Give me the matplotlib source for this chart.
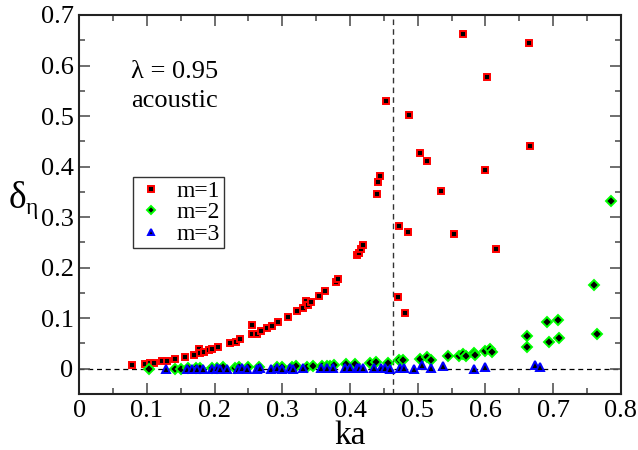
import matplotlib
matplotlib.use("Agg")
import matplotlib.pyplot as plt
from matplotlib.ticker import MultipleLocator, FuncFormatter

plt.rcParams["font.family"] = "serif"
plt.rcParams["font.serif"] = ["Liberation Serif", "DejaVu Serif"]
plt.rcParams["mathtext.fontset"] = "stix"

# m=1 (red squares)
m1_ka = [0.078, 0.097, 0.104, 0.111, 0.122, 0.130, 0.142, 0.156, 0.170, 0.177,
         0.179, 0.185, 0.192, 0.197, 0.205, 0.223, 0.231, 0.238, 0.256, 0.256,
         0.263, 0.269, 0.277, 0.285, 0.294, 0.309, 0.322, 0.331, 0.335, 0.338,
         0.343, 0.355, 0.363, 0.379, 0.383, 0.411, 0.413, 0.416, 0.419, 0.440,
         0.442, 0.444, 0.453, 0.471, 0.472, 0.481, 0.486, 0.487, 0.504, 0.514,
         0.535, 0.553, 0.567, 0.600, 0.603, 0.615, 0.665, 0.666]
m1_d = [0.0065, 0.009, 0.011, 0.012, 0.015, 0.016, 0.020, 0.024, 0.028, 0.040,
        0.031, 0.034, 0.0375, 0.039, 0.0435, 0.051, 0.052, 0.058, 0.086, 0.069,
        0.068, 0.075, 0.081, 0.085, 0.092, 0.1015, 0.114, 0.120, 0.134, 0.1265,
        0.1325, 0.144, 0.153, 0.172, 0.178, 0.225, 0.230, 0.237, 0.244, 0.346,
        0.370, 0.382, 0.529, 0.141, 0.283, 0.111, 0.271, 0.502, 0.427, 0.411,
        0.352, 0.266, 0.663, 0.393, 0.577, 0.237, 0.644, 0.440]

# m=2 (green diamonds)
m2_ka = [0.103, 0.142, 0.150, 0.161, 0.172, 0.178, 0.196, 0.203, 0.212, 0.230,
         0.236, 0.249, 0.266, 0.293, 0.300, 0.315, 0.320, 0.336, 0.345, 0.358,
         0.366, 0.371, 0.376, 0.394, 0.407, 0.430, 0.439, 0.456, 0.473, 0.479,
         0.504, 0.514, 0.519, 0.545, 0.561, 0.567, 0.571, 0.583, 0.584, 0.599,
         0.607, 0.610, 0.661, 0.661, 0.691, 0.694, 0.707, 0.709, 0.760, 0.765,
         0.786]
m2_d = [-0.001, 0.000, 0.000, 0.001, 0.001, 0.001, 0.002, 0.002, 0.003, 0.002,
        0.003, 0.003, 0.003, 0.003, 0.004, 0.003, 0.005, 0.003, 0.005, 0.005,
        0.006, 0.006, 0.007, 0.010, 0.010, 0.011, 0.014, 0.012, 0.0165, 0.018,
        0.019, 0.023, 0.018, 0.0245, 0.026, 0.0295, 0.0257, 0.031, 0.027, 0.035,
        0.039, 0.0336, 0.064, 0.043, 0.092, 0.052, 0.096, 0.0605, 0.165, 0.069,
        0.331]

# m=3 (blue triangles)
m3_ka = [0.129, 0.160, 0.166, 0.174, 0.183, 0.196, 0.203, 0.208, 0.218, 0.234,
         0.240, 0.248, 0.262, 0.267, 0.283, 0.292, 0.299, 0.311, 0.316, 0.331,
         0.357, 0.366, 0.375, 0.393, 0.400, 0.410, 0.414, 0.420, 0.436, 0.446,
         0.452, 0.459, 0.474, 0.480, 0.494, 0.506, 0.519, 0.537, 0.583, 0.599,
         0.674, 0.680]
m3_d = [0.000, 0.000, 0.000, 0.000, 0.000, 0.000, 0.001, 0.000, 0.000, 0.000,
        0.001, 0.000, 0.000, 0.001, 0.000, 0.001, 0.000, 0.001, 0.000, 0.001,
        0.001, 0.001, 0.001, 0.001, 0.002, 0.002, 0.001, 0.001, 0.002, 0.002,
        0.001, 0.000, 0.001, 0.001, 0.000, 0.0065, 0.001, 0.005, 0.000, 0.0026,
        0.007, 0.003]

ka_crit = 0.463

fig = plt.figure(figsize=(6.38, 4.5), dpi=100)
ax = fig.add_axes([0.124, 0.1244, 0.849, 0.8423])

ax.axhline(0, color="black", lw=0.9, ls=(0, (4, 3)), zorder=1)
ax.axvline(ka_crit, color="#333333", lw=1.0, ls=(0, (4, 3)), zorder=1)

ax.plot(m1_ka, m1_d, ls="none", marker="s", ms=4.6, mfc="black", mec="red",
        mew=1.4, label="m=1", zorder=3)
ax.plot(m2_ka, m2_d, ls="none", marker="D", ms=4.6, mfc="black", mec="#00ff00",
        mew=1.4, label="m=2", zorder=3)
ax.plot(m3_ka, m3_d, ls="none", marker="^", ms=5.4, mfc="black", mec="blue",
        mew=1.4, label="m=3", zorder=3)

ax.set_xlim(0, 0.8)
ax.set_ylim(-0.05, 0.7)
ax.xaxis.set_major_locator(MultipleLocator(0.1))
ax.xaxis.set_minor_locator(MultipleLocator(0.05))
ax.yaxis.set_major_locator(MultipleLocator(0.1))
ax.yaxis.set_minor_locator(MultipleLocator(0.05))
fmt = FuncFormatter(lambda v, p: "0" if abs(v) < 1e-9 else f"{v:g}")
ax.xaxis.set_major_formatter(fmt)
ax.yaxis.set_major_formatter(fmt)
ax.tick_params(which="both", direction="in", top=True, right=True, width=1.2,
               color="#555555")
ax.tick_params(which="major", length=8, labelsize=19, pad=4)
ax.tick_params(which="minor", length=4)
for s in ax.spines.values():
    s.set_linewidth(1.5)
    s.set_color("#222222")

ax.set_xlabel("ka", fontsize=24, labelpad=-1)
# y label: delta with eta subscript
fig.text(0.014, 0.538, "\u03b4", fontsize=27, va="baseline", ha="left")
fig.text(0.040, 0.525, "\u03b7", fontsize=17, va="baseline", ha="left")

ax.text(0.096, 0.834, "\u03bb = 0.95", transform=ax.transAxes, fontsize=19,
        va="baseline")
ax.text(0.096, 0.757, "acoustic", transform=ax.transAxes, fontsize=19,
        va="baseline")

leg = ax.legend(loc="upper left", bbox_to_anchor=(0.1, 0.573), fontsize=17,
                frameon=True, fancybox=False, edgecolor="black",
                handlelength=1.2, handletextpad=0.5, borderpad=0.15,
                labelspacing=0.0, markerscale=0.85, borderaxespad=0)
leg.get_frame().set_linewidth(1.0)

fig.savefig("out.png", dpi=100)
